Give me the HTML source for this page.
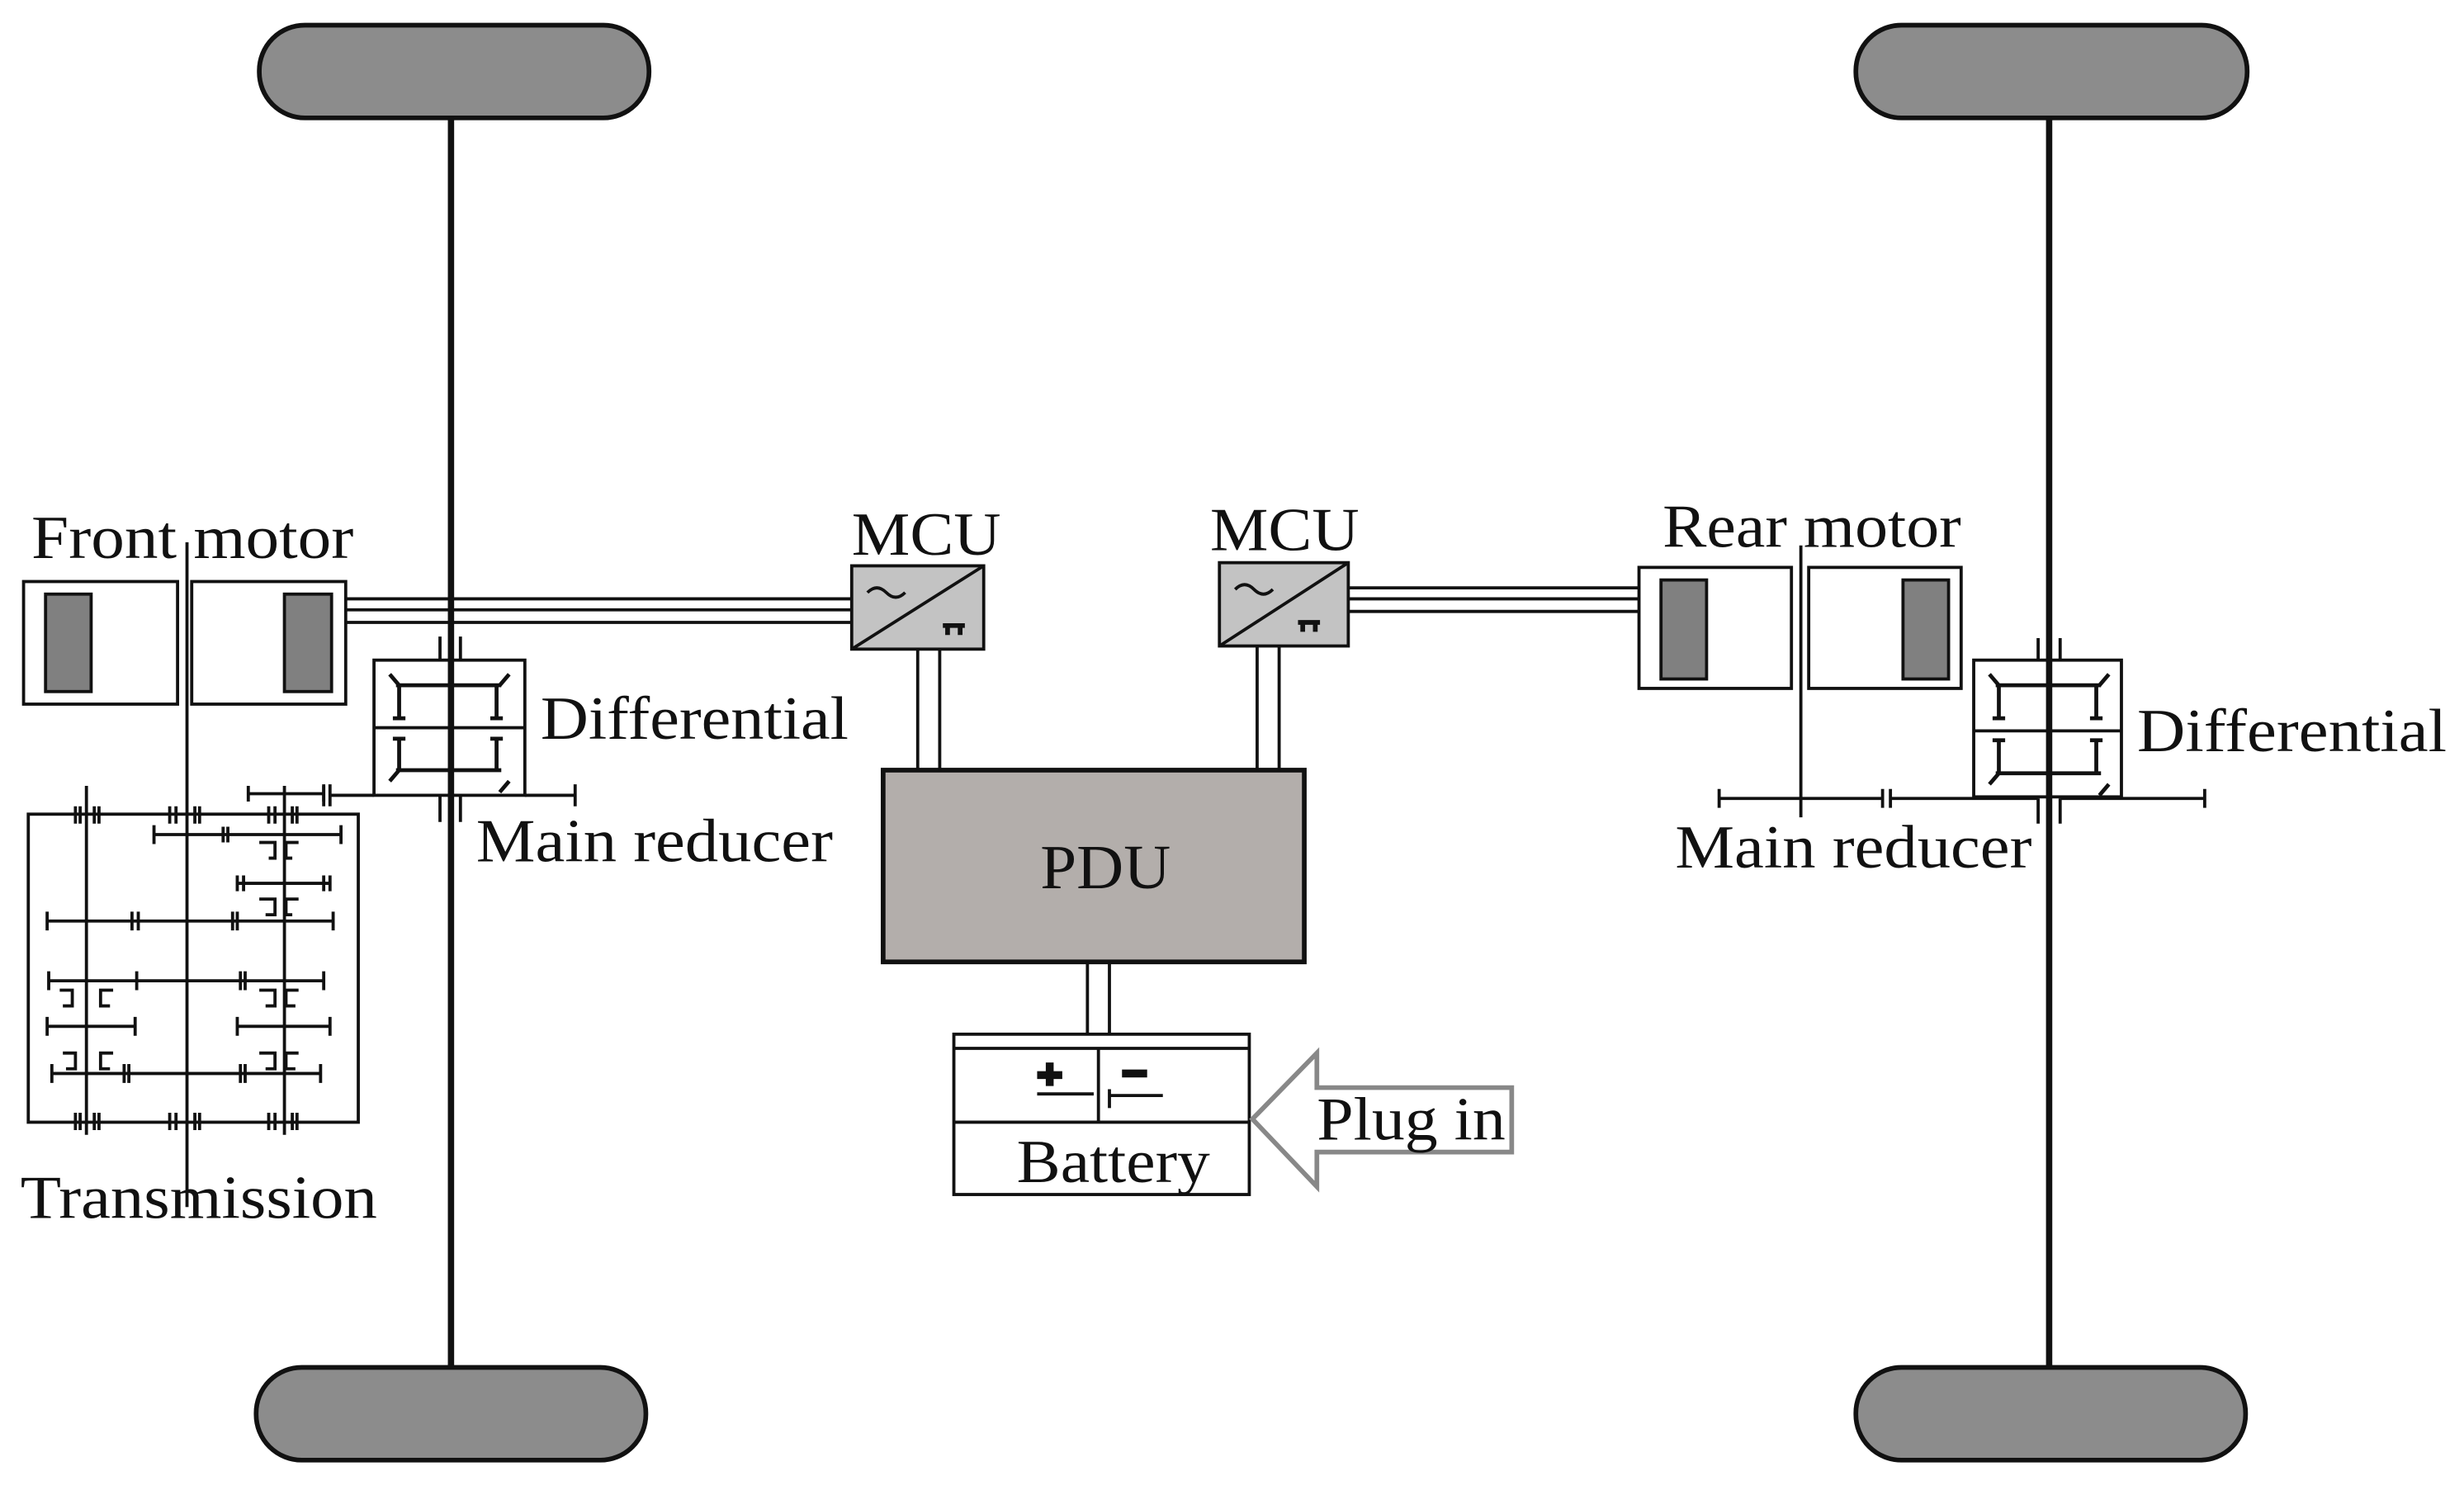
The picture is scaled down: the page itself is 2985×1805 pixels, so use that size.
<!DOCTYPE html>
<html><head><meta charset="utf-8"><style>html,body{margin:0;padding:0;background:#fff}svg{display:block}</style></head>
<body>
<svg width="2985" height="1805" viewBox="0 0 1568 948" preserveAspectRatio="none" xmlns="http://www.w3.org/2000/svg" font-family="'Liberation Serif', serif" font-size="39">
<g stroke="#111" stroke-width="2" fill="none">
<rect x="165" y="16" width="248" height="59" rx="29" fill="#8c8c8c" stroke-width="3"/>
<rect x="1181" y="16" width="249" height="59" rx="29" fill="#8c8c8c" stroke-width="3"/>
<rect x="163" y="870" width="248" height="59" rx="29" fill="#8c8c8c" stroke-width="3"/>
<rect x="1181" y="870" width="248" height="59" rx="29" fill="#8c8c8c" stroke-width="3"/>
<line x1="287" y1="75" x2="287" y2="870" stroke-width="4"/>
<line x1="1304" y1="75" x2="1304" y2="870" stroke-width="4"/>

<rect x="15" y="370" width="98" height="78" fill="#fff"/>
<rect x="122" y="370" width="98" height="78" fill="#fff"/>
<rect x="29" y="378" width="29" height="62" fill="#808080"/>
<rect x="181" y="378" width="30" height="62" fill="#808080"/>
<line x1="119" y1="345" x2="119" y2="768"/>
<line x1="220" y1="381" x2="542" y2="381"/><line x1="220" y1="388" x2="542" y2="388"/><line x1="220" y1="396" x2="542" y2="396"/>
<rect x="542" y="360" width="84" height="53" fill="#c3c3c3"/>
<line x1="542" y1="413" x2="626" y2="360"/>
<path d="M552 377 q6 -6 12 0 t12 0" />
<path d="M600 398 h14 M603 398 v6 M611 398 v6" stroke-width="3"/>
<rect x="776" y="358" width="82" height="53" fill="#c3c3c3"/>
<line x1="776" y1="411" x2="858" y2="358"/>
<path d="M786 375 q6 -6 12 0 t12 0" />
<path d="M826 396 h14 M829 396 v6 M837 396 v6" stroke-width="3"/>
<line x1="858" y1="374" x2="1043" y2="374"/><line x1="858" y1="381" x2="1043" y2="381"/><line x1="858" y1="389" x2="1043" y2="389"/>
<line x1="584" y1="413" x2="584" y2="490"/><line x1="598" y1="413" x2="598" y2="490"/>
<line x1="800" y1="411" x2="800" y2="490"/><line x1="814" y1="411" x2="814" y2="490"/>
<rect x="562" y="490" width="268" height="122" fill="#b3aeab" stroke-width="3"/>
<line x1="692" y1="612" x2="692" y2="658"/><line x1="706" y1="612" x2="706" y2="658"/>
<rect x="607" y="658" width="188" height="102" fill="#fff"/>
<line x1="607" y1="667" x2="795" y2="667"/>
<line x1="607" y1="714" x2="795" y2="714"/>
<line x1="699" y1="667" x2="699" y2="714"/>
<path d="M660 684 h16 M668 676 v15" stroke-width="5"/>
<line x1="660" y1="696" x2="696" y2="696"/>
<path d="M714 683 h16" stroke-width="5"/>
<line x1="706" y1="697" x2="740" y2="697"/><line x1="706" y1="693" x2="706" y2="705"/>
<path d="M797 712 L838 670 L838 692 L962 692 L962 733 L838 733 L838 755 Z" stroke="#888" stroke-width="3" fill="#fff"/>

<rect x="238" y="420" width="96" height="86" fill="#fff"/>
<line x1="238" y1="463" x2="334" y2="463"/>
<line x1="287" y1="420" x2="287" y2="506" stroke-width="4"/>
<path d="M252 436 h67 M254 436 v21 M316 436 v21 M248 429 l6 7 M324 429 l-6 7 M250 457 h8 M312 457 h8" stroke-width="2.5"/>
<path d="M252 490 h67 M254 490 v-20 M316 490 v-20 M248 497 l6 -7 M324 497 l-6 7 M250 470 h8 M312 470 h8" stroke-width="2.5"/>
<path d="M280 405 v15 M293 405 v15 M280 506 v17 M293 506 v17"/>
<path d="M210 506 h28 M334 506 h32 M366 499 v14 M210 499 v14 M206 499 v14"/>

<rect x="18" y="518" width="210" height="196"/>
<line x1="55" y1="500" x2="55" y2="722"/>
<line x1="181" y1="500" x2="181" y2="722"/>
<g stroke-width="2">
<path d="M48 513 v11 M51 513 v11 M60 513 v11 M63 513 v11"/>
<path d="M108 513 v11 M112 513 v11 M124 513 v11 M127 513 v11"/>
<path d="M171 513 v11 M175 513 v11 M186 513 v11 M189 513 v11"/>
<path d="M48 708 v11 M51 708 v11 M60 708 v11 M63 708 v11"/>
<path d="M108 708 v11 M112 708 v11 M124 708 v11 M127 708 v11"/>
<path d="M171 708 v11 M175 708 v11 M186 708 v11 M189 708 v11"/>
<path d="M158 505 h48 M158 500 v10 M206 500 v10"/>
<path d="M98 531 h119 M98 525 v12 M217 525 v12 M142 526 v10 M145 526 v10"/>
<path d="M165 536 h10 v10 h-4 M190 536 h-8 v10 h4"/>
<path d="M151 562 h59 M151 557 v10 M210 557 v10 M155 557 v10 M206 557 v10"/>
<path d="M165 572 h10 v10 h-6 M190 572 h-8 v10 h4"/>
<path d="M30 586 h182 M30 580 v12 M212 580 v12 M84 580 v12 M88 580 v12 M148 580 v12 M151 580 v12"/>
<path d="M31 624 h175 M31 618 v12 M206 618 v12 M87 618 v12 M153 618 v12 M156 618 v12"/>
<path d="M38 630 h8 v10 h-6 M72 630 h-8 v10 h6 M165 630 h10 v10 h-6 M190 630 h-8 v10 h6"/>
<path d="M30 653 h56 M30 647 v12 M86 647 v12 M151 653 h59 M151 647 v12 M210 647 v12"/>
<path d="M40 670 h8 v10 h-6 M72 670 h-8 v10 h6 M165 670 h10 v10 h-6 M190 670 h-8 v10 h6"/>
<path d="M33 683 h171 M33 677 v12 M204 677 v12 M79 677 v12 M82 677 v12 M153 677 v12 M156 677 v12"/>
</g>

<rect x="1043" y="361" width="97" height="77" fill="#fff"/>
<rect x="1151" y="361" width="97" height="77" fill="#fff"/>
<rect x="1057" y="369" width="29" height="63" fill="#808080"/>
<rect x="1211" y="369" width="29" height="63" fill="#808080"/>
<line x1="1146" y1="347" x2="1146" y2="520"/>
<rect x="1256" y="420" width="94" height="87" fill="#fff"/>
<line x1="1256" y1="465" x2="1350" y2="465"/>
<line x1="1304" y1="420" x2="1304" y2="507" stroke-width="4"/>
<path d="M1270 436 h67 M1272 436 v21 M1334 436 v21 M1266 429 l6 7 M1342 429 l-6 7 M1268 457 h8 M1330 457 h8" stroke-width="2.5"/>
<path d="M1270 492 h67 M1272 492 v-20 M1334 492 v-20 M1266 499 l6 -7 M1342 499 l-6 7 M1268 471 h8 M1330 471 h8" stroke-width="2.5"/>
<path d="M1297 406 v14 M1311 406 v14 M1297 508 v16 M1311 508 v16"/>
<path d="M1094 508 h104 M1203 508 h94 M1311 508 h92 M1094 502 v12 M1198 502 v12 M1203 502 v12 M1403 502 v12"/>
</g>
<g fill="#111" lengthAdjust="spacingAndGlyphs">
<text x="20" y="355" textLength="205" lengthAdjust="spacingAndGlyphs">Front motor</text>
<text x="542" y="353" textLength="95" lengthAdjust="spacingAndGlyphs">MCU</text>
<text x="770" y="350" textLength="95" lengthAdjust="spacingAndGlyphs">MCU</text>
<text x="1058" y="348" textLength="190" lengthAdjust="spacingAndGlyphs">Rear motor</text>
<text x="344" y="470" textLength="196" lengthAdjust="spacingAndGlyphs">Differential</text>
<text x="1360" y="478" textLength="197" lengthAdjust="spacingAndGlyphs">Differential</text>
<text x="303" y="548" textLength="227" lengthAdjust="spacingAndGlyphs">Main reducer</text>
<text x="1066" y="552" textLength="227" lengthAdjust="spacingAndGlyphs">Main reducer</text>
<text x="13" y="775" textLength="227" lengthAdjust="spacingAndGlyphs">Transmission</text>
<text x="662" y="565" font-size="40" textLength="83" lengthAdjust="spacingAndGlyphs">PDU</text>
<text x="647" y="752" textLength="123" lengthAdjust="spacingAndGlyphs">Battery</text>
<text x="838" y="725" textLength="120" lengthAdjust="spacingAndGlyphs">Plug in</text>
</g>
</svg>
</body></html>
